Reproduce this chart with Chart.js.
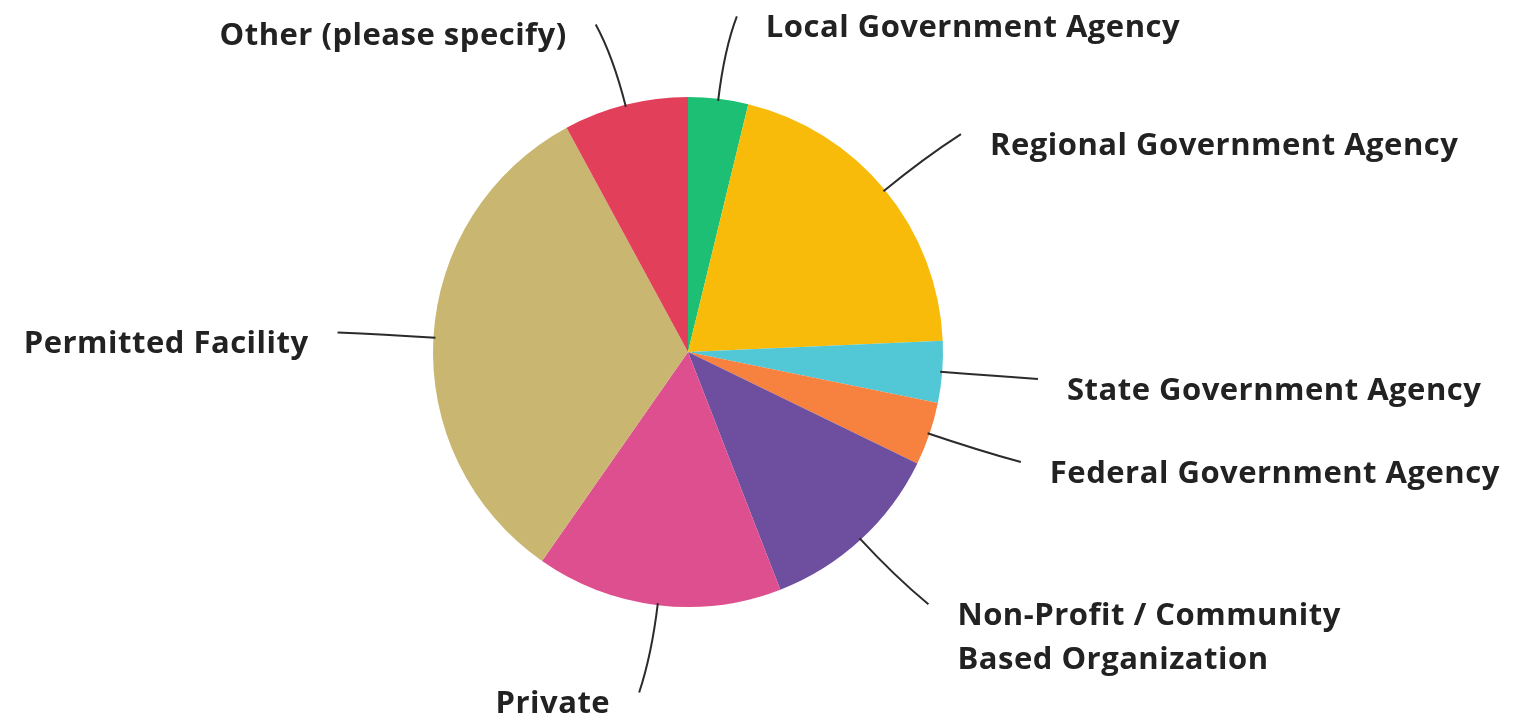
<!DOCTYPE html>
<html lang="en">
<head>
  <meta charset="UTF-8" />
  <title>Organization type</title>
  <style>
    *{box-sizing:border-box;margin:0;padding:0;}
    body{background:#fff;}
    #wrap{width:1524px;height:714px;position:relative;}
  </style>
</head>
<body>
  <div id="wrap"><canvas id="chart"></canvas></div>

  <script src="https://cdn.jsdelivr.net/npm/chart.js@4.4.1/dist/chart.umd.min.js"></script>
  <script>
  /* -------- data -------- */
  const labels=[
    'Local Government Agency',
    'Regional Government Agency',
    'State Government Agency',
    'Federal Government Agency',
    ['Non-Profit / Community','Based Organization'],
    'Private',
    'Permitted Facility',
    'Other (please specify)'
  ];
  const values=[3.8,20.5,3.9,4.0,11.9,15.6,32.4,7.9];
  const colors=['#1cbf74','#f9bb0a','#52c7d6','#f7813e','#6e4f9f','#dd4f8f','#c9b671','#e2405a'];

  /* -------- outside labels with leader lines -------- */
  const leaderLabels={
    id:'leaderLabels',
    afterDatasetsDraw(chart){
      const ctx=chart.ctx;
      const meta=chart.getDatasetMeta(0);
      ctx.save();
      ctx.strokeStyle='#2b2b2b';
      ctx.lineWidth=2;
      ctx.fillStyle='#222';
      ctx.font='bold 31px "Open Sans", sans-serif';
      ctx.letterSpacing='0.5px';
      ctx.textBaseline='middle';
      meta.data.forEach((arc,i)=>{
        const {x,y,startAngle,endAngle,outerRadius}=arc.getProps(['x','y','startAngle','endAngle','outerRadius'],true);
        const mid=(startAngle+endAngle)/2;
        const cos=Math.cos(mid),sin=Math.sin(mid);
        const right=cos>=0;
        const side=right?1:-1;
        const sx=x+cos*(outerRadius-2), sy=y+sin*(outerRadius-2);
        const cx=x+cos*(outerRadius+50), cy=y+sin*(outerRadius+50);
        const ex=x+cos*(outerRadius+88)+side*8, ey=y+sin*(outerRadius+88)+(sin<-0.9?5:0);
        ctx.beginPath();
        ctx.moveTo(sx,sy);
        ctx.quadraticCurveTo(cx,cy,ex,ey);
        ctx.stroke();

        const lines=Array.isArray(labels[i])?labels[i]:[labels[i]];
        ctx.textAlign=right?'left':'right';
        const tx=ex+side*29;
        lines.forEach((t,k)=>ctx.fillText(t,tx,ey+12+k*44));
      });
      ctx.restore();
    }
  };

  new Chart(document.getElementById('chart'),{
    type:'pie',
    data:{labels,datasets:[{data:values,backgroundColor:colors,borderWidth:0}]},
    options:{
      responsive:true,
      maintainAspectRatio:false,
      animation:false,
      layout:{padding:{left:433,right:581,top:97,bottom:107}},
      plugins:{legend:{display:false},tooltip:{enabled:false}}
    },
    plugins:[leaderLabels]
  });
  </script>
</body>
</html>
